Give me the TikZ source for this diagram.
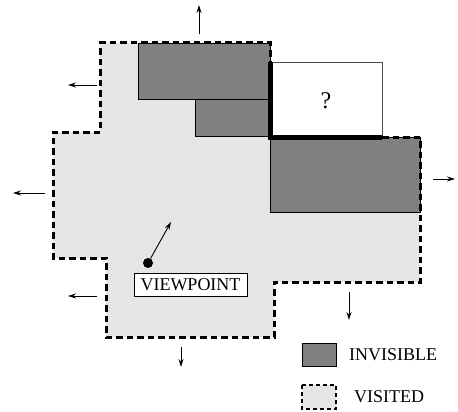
\documentclass[tikz,border=0pt]{standalone}
\usepackage{fontspec}
\setmainfont{Liberation Serif}
\usetikzlibrary{arrows.meta}

\begin{document}
\begin{tikzpicture}[x=1pt,y=-1pt]
	 \tikzstyle{visited}=[fill=black!10]
	 \tikzstyle{border}=[draw,line width=3pt,dash pattern=on 6.5pt off 4pt]
	 \tikzstyle{invisible}=[fill=black!50,draw=black,line width=0.8pt]
	 \tikzstyle{unknown}=[fill=white,draw=black!70,line width=0.8pt]
	 \tikzstyle{frontier}=[draw,line width=5pt,line join=miter]
	 \tikzstyle{push}=[-{Stealth[length=8pt,width=5pt]},line width=0.9pt]
	 \tikzstyle{txt}=[font=\fontsize{18}{20}\selectfont,inner sep=0pt]

	\useasboundingbox (0,0) rectangle (458,412);

	% visited area
	\fill[visited] (100,43) -- (270,43) -- (270,137) -- (420,137) -- (420,282) -- (274,282)
		-- (274,337) -- (106,337) -- (106,258) -- (53,258) -- (53,132) -- (100,132) -- cycle;

	% invisible parts and the unknown cell
	\draw[invisible] (138,43) rectangle (270,99);
	\draw[invisible] (195,99) rectangle (270,136);
	\draw[invisible] (270,137) rectangle (420,212);
	\draw[unknown] (270,62) rectangle (382,137);
	\node[font=\fontsize{24}{26}\selectfont] (q) at (326,101) {?};

	% boundary
	\draw[border] (382,137) -- (420,137) -- (420,282) -- (274,282) -- (274,337) -- (106,337)
		-- (106,258) -- (53,258) -- (53,132) -- (100,132) -- (100,43) -- (270,43) -- (270,62);
	\draw[frontier] (270,62) -- (270,137) -- (382,137);

	% growth directions
	\coordinate (a1) at (199,34);  \coordinate (b1) at (199,5);
	\coordinate (a2) at (97,85);   \coordinate (b2) at (68,85);
	\coordinate (a3) at (45,193);  \coordinate (b3) at (13,193);
	\coordinate (a4) at (97,296);  \coordinate (b4) at (68,296);
	\coordinate (a5) at (181,347); \coordinate (b5) at (181,367);
	\coordinate (a6) at (349,292); \coordinate (b6) at (349,320);
	\coordinate (a7) at (433,179); \coordinate (b7) at (455,179);
	\draw[push] (a1) -- (b1);
	\draw[push] (a2) -- (b2);
	\draw[push] (a3) -- (b3);
	\draw[push] (a4) -- (b4);
	\draw[push] (a5) -- (b5);
	\draw[push] (a6) -- (b6);
	\draw[push] (a7) -- (b7);

	% viewpoint
	\node[circle,fill=black,inner sep=0pt,minimum size=10pt] (vp) at (148,263) {};
	\coordinate (look) at (171,222);
	\draw[push] (vp) -- (look);
	\node[txt,draw=black,fill=white,line width=0.8pt,minimum width=113pt,minimum height=23pt] (vplabel) at (190.5,284.5) {VIEWPOINT};

	% legend
	\draw[invisible] (302,343) rectangle (336,366);
	\node[txt,anchor=west] (inv) at (349,355) {INVISIBLE};
	\draw[visited,draw=black,line width=2pt,dash pattern=on 4pt off 3pt] (302,385) rectangle (336,409);
	\node[txt,anchor=west] (vis) at (354,397) {VISITED};
\end{tikzpicture}
\end{document}
